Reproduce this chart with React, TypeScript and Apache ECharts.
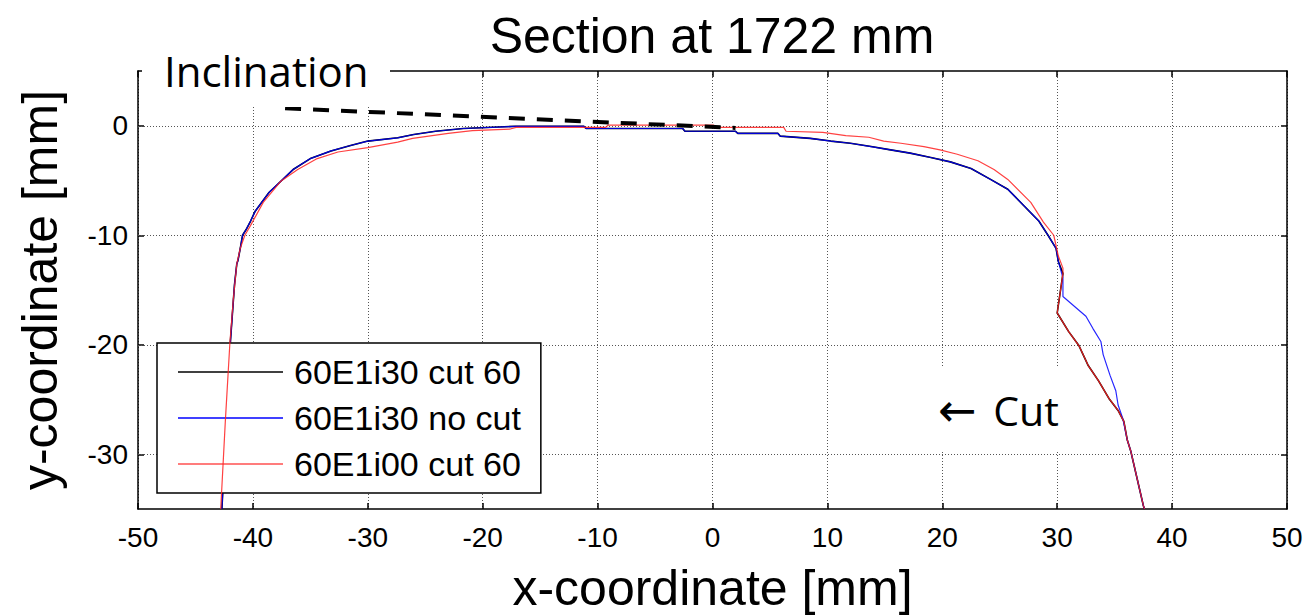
import React, { useEffect, useRef } from 'react';
import * as echarts from 'echarts';

const chartTitle = 'Section at 1722 mm';
const seriesNames = ['60E1i30 cut 60', '60E1i30 no cut', '60E1i00 cut 60'];
const yTickValues = [-30, -20, -10, 0];

// 60E1i30 cut 60 (black)
const cut30: number[][] = [
  [-42.7, -35], [-42.3, -27], [-41.95, -19.6], [-41.6, -14.5], [-41.4, -12.6], [-41.3, -12.3],
  [-41.1, -11.2], [-40.9, -10.0], [-40.6, -9.5], [-40.2, -8.7], [-39.8, -7.8], [-38.6, -6.1],
  [-37.5, -5.0], [-36.5, -4.0], [-35.0, -3.0], [-33.2, -2.3], [-31.5, -1.8], [-30.0, -1.4],
  [-27.4, -1.1], [-26.0, -0.8], [-24.1, -0.5], [-21.7, -0.25], [-17.1, -0.05], [-11.2, -0.05],
  [-11.0, -0.25], [-2.6, -0.25], [-2.4, -0.5], [2.0, -0.5], [2.2, -0.7], [5.7, -0.7],
  [5.9, -0.95], [8.5, -1.15], [10.3, -1.4], [12.0, -1.6], [13.8, -1.9], [15.5, -2.2],
  [17.2, -2.5], [19.0, -2.9], [20.7, -3.3], [22.5, -3.9], [24.2, -4.9], [25.7, -5.8],
  [27.1, -7.3], [28.4, -8.7], [29.2, -10.0], [29.9, -11.2], [30.1, -12.4], [30.5, -13.5],
  [30.0, -17.1], [31.0, -18.8], [31.9, -20.1], [32.7, -21.9], [33.6, -23.3], [34.5, -24.9],
  [35.3, -26.0], [35.8, -27.0], [36.1, -28.7], [36.4, -29.7], [37.5, -34.7], [37.6, -35],
];

// 60E1i30 no cut (blue)
const noCut30: number[][] = [
  [-42.7, -35], [-42.3, -27], [-41.95, -19.6], [-41.6, -14.5], [-41.4, -12.6], [-41.3, -12.3],
  [-41.1, -11.2], [-40.9, -10.0], [-40.6, -9.5], [-40.2, -8.7], [-39.8, -7.8], [-38.6, -6.1],
  [-37.5, -5.0], [-36.5, -4.0], [-35.0, -3.0], [-33.2, -2.3], [-31.5, -1.8], [-30.0, -1.4],
  [-27.4, -1.1], [-26.0, -0.8], [-24.1, -0.5], [-21.7, -0.25], [-17.1, -0.05], [-11.2, -0.05],
  [-11.0, -0.25], [-2.6, -0.25], [-2.4, -0.5], [2.0, -0.5], [2.2, -0.7], [5.7, -0.7],
  [5.9, -0.95], [8.5, -1.15], [10.3, -1.4], [12.0, -1.6], [13.8, -1.9], [15.5, -2.2],
  [17.2, -2.5], [19.0, -2.9], [20.7, -3.3], [22.5, -3.9], [24.2, -4.9], [25.7, -5.8],
  [27.1, -7.3], [28.4, -8.7], [29.2, -10.0], [29.9, -11.2], [30.1, -12.4], [30.5, -13.9],
  [30.5, -15.6], [32.5, -17.4], [33.1, -18.5], [33.8, -19.7], [34.0, -20.9], [34.6, -22.8],
  [35.1, -24.2], [35.3, -25.5], [35.7, -26.7], [36.1, -28.7], [36.4, -29.7], [37.5, -34.7], [37.6, -35],
];

// 60E1i00 cut 60 (red)
const cut00: number[][] = [
  [-42.8, -35], [-42.4, -27], [-42.0, -19.8], [-41.7, -15.8], [-41.4, -12.6], [-41.1, -11.2],
  [-40.7, -10.0], [-40.2, -9.1], [-39.1, -7.0], [-37.6, -5.1], [-36.1, -4.0], [-34.4, -3.0],
  [-32.6, -2.4], [-30.0, -2.0], [-27.4, -1.5], [-26.1, -1.15], [-24.7, -0.95], [-23.0, -0.7],
  [-20.9, -0.45], [-17.6, -0.3], [-17.1, -0.15], [-9.3, -0.15], [-9.1, 0.05], [0.1, 0.05],
  [0.3, -0.15], [6.2, -0.15], [6.4, -0.5], [9.6, -0.6], [11.6, -0.9], [13.6, -1.05],
  [14.9, -1.4], [16.4, -1.6], [18.4, -1.9], [19.8, -2.2], [21.3, -2.6], [23.1, -3.2],
  [24.5, -4.0], [25.7, -4.9], [27.7, -7.0], [28.8, -8.8], [29.7, -10.0], [30.1, -11.9],
  [30.5, -13.0], [30.5, -13.5], [30.0, -17.1], [31.0, -18.8], [31.9, -20.1], [32.7, -21.9],
  [33.6, -23.3], [34.5, -24.9], [35.3, -26.0], [35.8, -27.0], [36.1, -28.7], [36.4, -29.7],
  [37.5, -34.7], [37.6, -35],
];

// Inclination annotation line
const inclinationLine: number[][] = [[-37.2, 1.6], [2.0, -0.2]];

const FONT = 'Liberation Sans, Arial, sans-serif';
const CAL = 'Open Sans, sans-serif';

export default function App() {
  const ref = useRef<HTMLDivElement>(null);
  useEffect(() => {
    document.body.style.margin = '0';
    const chart = echarts.init(ref.current!, null, { renderer: 'svg' });
    const axisLineStyle = { color: '#000', width: 1.5 };
    const gridLine = { color: '#555', type: [1, 2] as any, width: 1 };
    chart.setOption({
      animation: false,
      backgroundColor: '#fff',
      grid: { left: 138, top: 71, width: 1149, height: 438, containLabel: false, outerBoundsMode: 'none' },
      legend: {
        data: seriesNames,
        orient: 'vertical',
        left: 157,
        top: 343,
        backgroundColor: '#fff',
        borderColor: '#000',
        borderWidth: 1.5,
        borderRadius: 0,
        padding: [12, 20, 12, 21],
        icon: 'rect',
        itemWidth: 105,
        itemHeight: 1.5,
        itemGap: 12,
        textStyle: { fontSize: 34, color: '#000', fontFamily: FONT, padding: [0, 0, 0, 6], lineHeight: 34 },
        selectedMode: false,
      },
      xAxis: [
        {
          type: 'value', min: -50, max: 50, interval: 10, position: 'bottom',
          axisLine: { show: true, onZero: false, lineStyle: axisLineStyle },
          axisTick: { show: true, inside: true, length: 6, lineStyle: axisLineStyle },
          axisLabel: { fontSize: 28, color: '#000', fontFamily: FONT, margin: 14 },
          splitLine: { show: true, lineStyle: gridLine },
          name: 'x-coordinate [mm]', nameLocation: 'middle', nameGap: 54,
          nameTextStyle: { fontSize: 50, color: '#000', fontFamily: FONT },
        },
        {
          type: 'value', min: -50, max: 50, interval: 10, position: 'top',
          axisLine: { show: true, onZero: false, lineStyle: axisLineStyle },
          axisTick: { show: true, inside: true, length: 6, lineStyle: axisLineStyle },
          axisLabel: { show: false },
          splitLine: { show: false },
        },
      ],
      yAxis: [
        {
          type: 'value', min: -35, max: 5, interval: 5, position: 'left',
          axisLine: { show: true, onZero: false, lineStyle: axisLineStyle },
          axisTick: { show: true, inside: true, length: 6, lineStyle: axisLineStyle, customValues: yTickValues },
          axisLabel: {
            fontSize: 28, color: '#000', fontFamily: FONT, margin: 10,
            formatter: (v: number) => (yTickValues.indexOf(v) >= 0 ? String(v) : ''),
          },
          splitLine: { show: false },
          name: 'y-coordinate [mm]', nameLocation: 'middle', nameGap: 73,
          nameTextStyle: { fontSize: 50, color: '#000', fontFamily: FONT },
        },
        {
          type: 'value', min: -35, max: 5, interval: 5, position: 'right',
          axisLine: { show: true, onZero: false, lineStyle: axisLineStyle },
          axisTick: { show: true, inside: true, length: 6, lineStyle: axisLineStyle, customValues: yTickValues },
          axisLabel: { show: false },
          splitLine: { show: false },
        },
      ],
      series: [
        {
          name: 'ygrid', type: 'line', data: [], silent: true, z: 1,
          markLine: {
            silent: true, symbol: 'none', z: 1, animation: false,
            label: { show: false },
            lineStyle: gridLine,
            data: yTickValues.map((v) => ({ yAxis: v })),
          },
        },
        {
          name: seriesNames[0], type: 'line', data: cut30, symbol: 'none', z: 2,
          lineStyle: { color: '#000', width: 1.6 }, itemStyle: { color: '#000' },
        },
        {
          name: seriesNames[1], type: 'line', data: noCut30, symbol: 'none', z: 3,
          lineStyle: { color: '#0000ff', width: 1.2, opacity: 0.85 }, itemStyle: { color: '#0000ff' },
        },
        {
          name: seriesNames[2], type: 'line', data: cut00, symbol: 'none', z: 4,
          lineStyle: { color: '#ff2020', width: 1.2, opacity: 0.85 }, itemStyle: { color: '#ff5050' },
        },
        {
          name: 'inclination', type: 'line', data: inclinationLine, symbol: 'none', z: 5, silent: true,
          lineStyle: { color: '#000', width: 4, type: [16, 12] },
        },
      ],
      graphic: [
        {
          type: 'text', x: 712, y: 11, z: 100,
          style: { text: chartTitle, font: `50px ${FONT}`, fill: '#000', textAlign: 'center', textVerticalAlign: 'top' },
        },
        { type: 'rect', z: 100, shape: { x: 142, y: 52, width: 248, height: 55 }, style: { fill: '#fff' } },
        {
          type: 'text', x: 164, y: 70, z: 101,
          style: { text: 'Inclination', font: `42px ${CAL}`, fill: '#000', textAlign: 'left', textVerticalAlign: 'middle' },
        },
        { type: 'rect', z: 100, shape: { x: 925, y: 368, width: 147, height: 82 }, style: { fill: '#fff' } },
        {
          type: 'text', x: 938, y: 410, z: 101,
          style: {
            text: '{a|←} {b|Cut}',
            font: `41px ${CAL}`,
            fill: '#000', textAlign: 'left', textVerticalAlign: 'middle',
            rich: {
              a: { font: `46px DejaVu Sans, sans-serif`, fill: '#000' },
              b: { font: `41px ${CAL}`, fill: '#000', padding: [0, 0, 0, 6] },
            },
          },
        },
      ],
    });
    return () => chart.dispose();
  }, []);
  return <div ref={ref} style={{ width: 1306, height: 615 }} />;
}
